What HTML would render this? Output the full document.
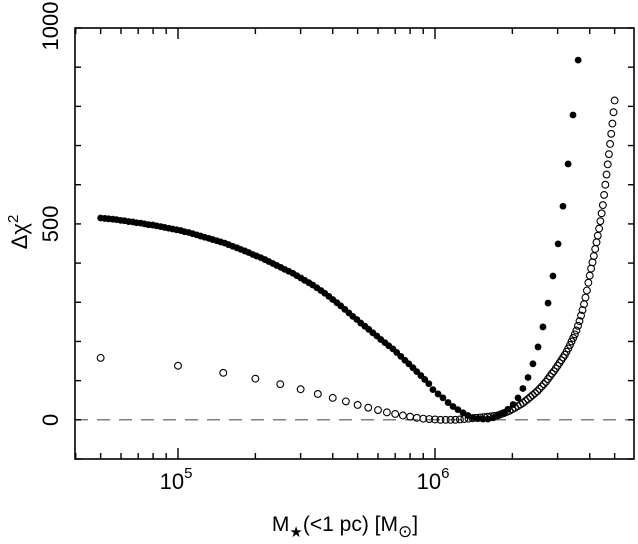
<!DOCTYPE html>
<html><head><meta charset="utf-8"><style>
html,body{margin:0;padding:0;background:#fff;}
svg{display:block;font-family:"Liberation Sans","DejaVu Sans",sans-serif;}
</style></head><body>
<svg id="chart" width="638" height="544" viewBox="0 0 638 544" xmlns="http://www.w3.org/2000/svg">
<g id="grid"></g>
<g id="marks"></g>
<text x="345" y="531" font-size="21" text-anchor="middle">M<tspan font-size="15" dy="6">★</tspan><tspan dy="-6">(&lt;1 pc) [M</tspan><tspan font-size="17" dy="6">⊙</tspan><tspan dy="-6">]</tspan></text>
<text transform="translate(27,232) rotate(-90)" font-size="22" text-anchor="middle">Δχ<tspan font-size="15" dy="-9">2</tspan></text>
</svg>
<script>
const yTicks = [0, 500, 1000];
const xTickExps = [5, 6];
// filled series: log10(M) and delta chi^2
const filledLogM = [4.699,4.715,4.730,4.746,4.761,4.777,4.792,4.808,4.824,4.839,4.855,4.870,4.886,4.902,4.917,4.933,4.948,4.964,4.979,4.995,5.011,5.026,5.042,5.057,5.073,5.088,5.104,5.120,5.135,5.151,5.166,5.182,5.197,5.213,5.229,5.244,5.260,5.275,5.291,5.306,5.322,5.338,5.353,5.369,5.384,5.400,5.415,5.431,5.447,5.462,5.478,5.493,5.509,5.524,5.540,5.556,5.571,5.587,5.602,5.618,5.633,5.649,5.665,5.680,5.696,5.711,5.727,5.742,5.758,5.774,5.789,5.805,5.820,5.836,5.851,5.867,5.883,5.898,5.914,5.929,5.945,5.960,5.976,5.992,6.012,6.031,6.051,6.070,6.089,6.109,6.128,6.148,6.167,6.187,6.206,6.226,6.245,6.265,6.284,6.304,6.323,6.342,6.362,6.381,6.401,6.420,6.440,6.459,6.479,6.498,6.518,6.537,6.557];
const filledChi = [515,514,513,512,511,509,508,506,505,503,502,500,498,497,495,493,491,489,487,485,483,480,478,475,472,469,466,463,460,457,454,451,447,443,439,435,431,427,422,418,414,409,404,399,394,389,384,379,374,368,362,356,350,344,337,330,323,315,307,299,291,282,273,264,256,247,239,231,222,214,205,197,189,181,172,162,152,143,133,123,113,103,92,77,66,56,44,34,26,18,11,6,3,2,2,5,10,17,27,39,56,80,108,143,186,237,298,367,449,545,653,778,918];
// open series: M in units of 1e4 Msun
const openM = [5,10,15,20,25,30,35,40,45,50,55,60,65,70,75,80,85,90,95,100,105,110,115,120,125,130,135,140,145,150,155,160,165,170,175,180,185,190,195,200,205,210,215,220,225,230,235,240,245,250,255,260,265,270,275,280,285,290,295,300,305,310,315,320,325,330,335,340,345,350,355,360,365,370,375,380,385,390,395,400,405,410,415,420,425,430,435,440,445,450,455,460,465,470,475,480,485,490,495,500];
const openChi = [158,138,120,105,91,78,66,56,47,38,31,25,19,15,11,8,5,3,2,1,0,0,0,0,1,2,3,4,5,6,7,8,9,10,11,14,17,20,23,27,31,35,39,43,48,53,58,63,68,73,79,85,91,97,104,111,118,124,131,138,145,152,159,166,174,182,191,200,209,218,228,240,252,266,280,295,312,330,350,368,386,402,418,436,453,470,488,507,527,548,574,600,626,652,678,704,730,756,785,815];

const L=75,R=634,T=28,B=459;
const yMin=-100,yMax=1000;
const lxMin=5+(L-178)/257, lxMax=6+(R-435)/257;
function X(lg){return L+(lg-lxMin)/(lxMax-lxMin)*(R-L);}
function Y(v){return B-(v-yMin)/(yMax-yMin)*(B-T);}
const NS="http://www.w3.org/2000/svg";
const g=document.getElementById('grid'), m=document.getElementById('marks');
function mk(tag,attrs,parent){const e=document.createElementNS(NS,tag);for(const k in attrs)e.setAttribute(k,attrs[k]);parent.appendChild(e);return e;}

let zl=mk('line',{x1:L,x2:R,y1:Y(0),y2:Y(0),stroke:'#555','stroke-width':1.2,'stroke-dasharray':'13,9'},g);


let fr=mk('rect',{x:L,y:T,width:R-L,height:B-T,fill:'none',stroke:'#000','stroke-width':1.6},g);


for(let v=-100;v<=1000;v+=100){
  const y=Y(v);
  let t1=mk('line',{x1:L,x2:L+6,y1:y,y2:y,stroke:'#000','stroke-width':1.4},g);
  
  
  let t2=mk('line',{x1:R-6,x2:R,y1:y,y2:y,stroke:'#000','stroke-width':1.4},g);
  
  
}
yTicks.forEach(v=>{
  const y=Y(v);
  let t=mk('text',{transform:`translate(58,${y}) rotate(-90)`,'font-size':22,'text-anchor':'middle'},g);
  t.textContent=String(v);
  if(v===1000){t.setAttribute('transform',`translate(58,${y-2}) rotate(-90)`);}
  
  
});
for(let e=4;e<=6;e++){
  for(let k=1;k<=9;k++){
    const lg=e+Math.log10(k);
    if(lg<lxMin||lg>lxMax)continue;
    const x=X(lg), len=(k===1)?11:6;
    let t1=mk('line',{x1:x,x2:x,y1:B,y2:B-len,stroke:'#000','stroke-width':1.4},g);
    
    
    let t2=mk('line',{x1:x,x2:x,y1:T,y2:T+len,stroke:'#000','stroke-width':1.4},g);
    
    
  }
}
xTickExps.forEach(e=>{
  const x=X(e);
  let t=mk('text',{x:x-2,y:489,'font-size':22,'text-anchor':'middle'},g);
  t.textContent='10';
  const s=mk('tspan',{'font-size':15,dy:-11},t);
  s.textContent=String(e);
  
  
});
openM.forEach((mv,i)=>{
  let c=mk('circle',{cx:X(Math.log10(mv*1e4)),cy:Y(openChi[i]),r:3.4,fill:'none',stroke:'#000','stroke-width':1.1},m);
  
  
});
filledLogM.forEach((lg,i)=>{
  let c=mk('circle',{cx:X(lg),cy:Y(filledChi[i]),r:3.4,fill:'#000'},m);
  
  
});
</script>
</body></html>
